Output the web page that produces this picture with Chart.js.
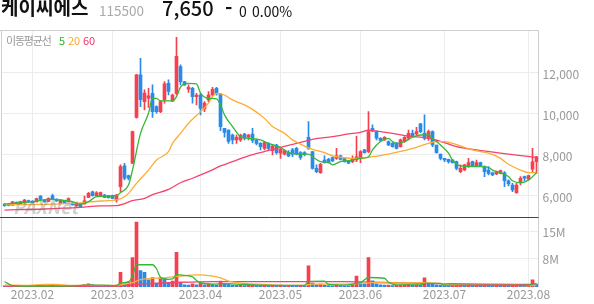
<!DOCTYPE html>
<html lang="ko">
<head>
<meta charset="utf-8">
<script src="https://cdn.jsdelivr.net/npm/chart.js@4"></script>
<style>
html, body { margin: 0; padding: 0; background: #fff; }
#wrap { position: relative; width: 594px; height: 304px; overflow: hidden; font-family: 'Noto Sans CJK KR', 'Noto Sans', sans-serif; }
canvas { position: absolute; left: 0; top: 0; }
.t { position: absolute; white-space: nowrap; line-height: 1; }
</style>
</head>
<body>
<div id="wrap">
  <canvas id="chart" width="594" height="304"></canvas>
  <span class="t" style="left:1px;top:-3px;font-size:19px;font-weight:700;color:#111">케이씨에스</span>
  <span class="t" style="left:99px;top:4px;font-size:13.5px;color:#aaa">115500</span>
  <span class="t" style="left:162px;top:-2px;font-size:20px;font-weight:500;color:#111">7,650</span>
  <span class="t" style="left:225px;top:-2px;font-size:20px;font-weight:700;color:#111">-</span>
  <span class="t" style="left:239px;top:4px;font-size:14px;color:#111">0</span>
  <span class="t" style="left:252px;top:4px;font-size:14px;color:#111">0.00%</span>
  <span class="t" style="left:6px;top:35px;font-size:11px;letter-spacing:-1.2px;color:#999">이동평균선</span>
  <span class="t" style="left:59px;top:35px;font-size:11px;color:#2fb52f">5</span>
  <span class="t" style="left:68px;top:35px;font-size:11px;color:#fca62c">20</span>
  <span class="t" style="left:83px;top:35px;font-size:11px;color:#f5306a">60</span>
  <span class="t" style="left:13px;top:197px;font-size:18px;font-weight:700;font-style:italic;color:rgba(120,120,120,0.35)">PAXNet</span>
</div>
<script>
// 거래일
const monthKeys = ['2023.01', '2023.02', '2023.03', '2023.04', '2023.05', '2023.06', '2023.07', '2023.08'];
const monthDays = [
    [19, 20, 25, 26, 27, 30, 31],
    [1, 2, 3, 6, 7, 8, 9, 10, 13, 14, 15, 16, 17, 20, 21, 22, 23, 24, 27, 28],
    [2, 3, 6, 7, 8, 9, 10, 13, 14, 15, 16, 17, 20, 21, 22, 23, 24, 27, 28, 29, 30, 31],
    [3, 4, 5, 6, 7, 10, 11, 12, 13, 14, 17, 18, 19, 20, 21, 24, 25, 26, 27, 28],
    [2, 3, 4, 8, 9, 10, 11, 12, 15, 16, 17, 18, 19, 22, 23, 24, 25, 26, 30, 31],
    [1, 2, 5, 7, 8, 9, 12, 13, 14, 15, 16, 19, 20, 21, 22, 23, 26, 27, 28, 29, 30],
    [3, 4, 5, 6, 7, 10, 11, 12, 13, 14, 17, 18, 19, 20, 21, 24, 25, 26, 27, 28, 31],
    [1, 2, 3]
];

// 시가 / 고가 / 저가 / 종가
const opens = [5590, 5580, 5540, 5680, 5610, 5650, 5760, 5720, 5700, 5980, 5780, 5720, 5990, 5830, 5650, 5720, 5700, 5640, 5500, 5600,
    5600, 5920, 6190, 6000, 6000, 6030, 6000, 6000, 5780, 6440, 7450, 6980, 7580, 9820, 11890, 10590, 10750, 10990, 10340, 10100,
    10670, 11480, 10620, 10990, 12300, 11560, 11190, 11240, 10830, 10910, 10230, 10670, 10910, 11240, 10960, 9290, 9200, 8960, 8720, 8720,
    9010, 8850, 9010, 8720, 8550, 8310, 8550, 8200, 8470, 8070, 8030, 8100, 8230, 8310, 8100, 8100, 8850, 8150, 7330, 7120,
    7740, 7770, 7860, 7820, 7940, 7820, 7710, 7660, 7740, 7820, 8230, 8150, 9290, 9120, 8800, 8720, 8640, 8550, 8560, 8390,
    8640, 8800, 9040, 9010, 9500, 9040, 8800, 9120, 8470, 8030, 7820, 7770, 7740, 7660, 7170, 7250, 7420, 7660, 7450, 7610,
    7420, 7250, 7120, 7060, 7090, 7120, 6730, 6520, 6150, 6680, 6930, 6800, 7290, 7660];
const highs = [5620, 5600, 5720, 5700, 5720, 5820, 5780, 5760, 5880, 6000, 5800, 5890, 6080, 5850, 5800, 5740, 5900, 5660, 5620, 5620,
    5980, 6160, 6230, 6200, 6180, 6060, 6020, 6030, 6060, 7500, 7580, 7010, 9150, 11920, 12700, 11160, 11240, 11400, 10380, 10640,
    11560, 11650, 10960, 13720, 12380, 11580, 11400, 11290, 10990, 10990, 10590, 11080, 11290, 11290, 10990, 9290, 9210, 9010, 8960, 9010,
    9040, 8990, 9290, 8750, 8590, 8640, 8590, 8470, 8510, 8310, 8230, 8200, 8310, 8360, 8150, 8150, 9610, 8150, 7500, 7580,
    7940, 7820, 7900, 8310, 7980, 7850, 7740, 7940, 8910, 8200, 8260, 10100, 9450, 9170, 8830, 8880, 8680, 8590, 8600, 8760,
    8880, 9200, 9200, 9330, 9530, 9940, 9200, 9160, 8470, 8030, 7820, 7790, 7770, 7690, 7500, 7530, 7820, 7690, 7740, 7640,
    7450, 7420, 7150, 7200, 7250, 7170, 6770, 6600, 6600, 6930, 6960, 7010, 8310, 7920];
const lows = [5480, 5500, 5530, 5600, 5600, 5640, 5670, 5640, 5690, 5800, 5680, 5710, 5800, 5720, 5640, 5630, 5690, 5540, 5480, 5410,
    5580, 5900, 5980, 5980, 5980, 5900, 5880, 5860, 5680, 6200, 6770, 6770, 7560, 9780, 10340, 10180, 10310, 9820, 10020, 10050,
    10510, 10910, 10590, 10910, 11400, 11380, 11030, 10510, 10430, 9940, 10100, 10590, 10870, 10900, 9170, 8850, 8550, 8520, 8550, 8640,
    8720, 8720, 8590, 8470, 8230, 8230, 8230, 7990, 8030, 7820, 7990, 7900, 7900, 7990, 7770, 7940, 8260, 7290, 7120, 7090,
    7580, 7580, 7660, 7770, 7740, 7630, 7560, 7610, 7660, 7610, 8070, 8100, 9120, 8720, 8650, 8690, 8440, 8360, 8280, 8360,
    8600, 8720, 8880, 8960, 9070, 8720, 8690, 8390, 8070, 7740, 7660, 7580, 7580, 7250, 7120, 7220, 7380, 7420, 7420, 7420,
    6930, 7010, 6980, 7030, 7060, 6440, 6470, 6200, 6110, 6520, 6730, 6770, 7120, 7090];
const closes = [5510, 5520, 5700, 5620, 5700, 5780, 5690, 5660, 5860, 5820, 5700, 5870, 5820, 5740, 5780, 5650, 5860, 5560, 5600, 5430,
    5750, 6110, 6000, 6140, 6150, 5920, 5900, 5870, 6030, 7420, 6850, 6850, 9120, 11890, 10680, 11000, 10870, 10100, 10100, 10590,
    11450, 11080, 10910, 12790, 11560, 11400, 11290, 10830, 10910, 10260, 10510, 10910, 11190, 10960, 9370, 9090, 8640, 8720, 8850, 8940,
    8800, 8960, 8690, 8550, 8390, 8590, 8310, 8420, 8100, 8260, 8200, 7940, 8030, 8030, 7870, 8000, 8310, 7330, 7170, 7530,
    7610, 7610, 7690, 7940, 7770, 7660, 7580, 7820, 7900, 8150, 8100, 9120, 9160, 8800, 8690, 8850, 8470, 8390, 8310, 8720,
    8850, 9040, 8910, 9120, 9120, 8800, 9120, 8470, 8100, 7820, 7740, 7660, 7610, 7330, 7330, 7500, 7610, 7450, 7610, 7450,
    7170, 7090, 7010, 7170, 7220, 6730, 6570, 6280, 6520, 6850, 6850, 6980, 7650, 7900];

// 거래량 (천주)
const volumes = [350, 300, 400, 250, 300, 400, 250, 300, 450, 500, 300, 350, 600, 300, 250, 200, 350, 200, 200, 300,
    650, 900, 650, 450, 400, 300, 250, 300, 500, 4000, 900, 1400, 8100, 17800, 4500, 4000, 2000, 2600, 1100, 2500,
    2400, 1100, 1600, 9500, 1300, 600, 550, 900, 600, 1000, 600, 900, 700, 500, 1600, 900, 800, 500, 450, 600,
    400, 450, 700, 500, 450, 500, 400, 500, 450, 500, 350, 400, 350, 300, 400, 300, 5800, 1100, 600, 800,
    500, 400, 350, 750, 400, 350, 300, 500, 3000, 1100, 700, 8100, 1700, 900, 600, 500, 500, 400, 450, 500,
    600, 700, 500, 600, 500, 2500, 800, 700, 600, 500, 400, 300, 300, 500, 600, 500, 600, 400, 450, 300,
    500, 400, 300, 350, 300, 600, 400, 500, 600, 500, 300, 400, 2000, 800];

// 이동평균선 (거래일 번호, 값)
const ma5Points = [[0, 5590], [4, 5660], [7, 5710], [11, 5820], [14, 5790], [17, 5710], [19, 5590], [21, 5710], [23, 5950], [26, 5980],
    [28, 6000], [29, 6150], [31, 6520], [32, 7250], [34, 9040], [36, 10020], [37, 10750], [38, 10750], [39, 10620], [42, 10620],
    [43, 10830], [44, 11290], [46, 11480], [48, 11450], [49, 11000], [51, 10750], [53, 10720], [54, 10430], [55, 9940], [57, 9370],
    [59, 8880], [61, 8800], [64, 8720], [66, 8550], [69, 8360], [71, 8100], [74, 8030], [76, 8030], [77, 7900], [79, 7660],
    [81, 7630], [82, 7500], [84, 7660], [86, 7710], [89, 7820], [91, 7900], [92, 8230], [94, 8640], [96, 8790], [97, 8640],
    [98, 8540], [100, 8640], [102, 8850], [104, 8960], [106, 8960], [107, 8800], [109, 8470], [111, 8070], [112, 7740], [114, 7450],
    [117, 7420], [119, 7420], [121, 7380], [122, 7250], [124, 7120], [126, 6930], [127, 6730], [129, 6630], [131, 6760], [133, 7120]];
const ma20Points = [[0, 5560], [10, 5580], [18, 5640], [24, 5740], [28, 5790], [30, 5950], [31, 6110], [33, 6600], [36, 7250], [38, 7740],
    [41, 8150], [42, 8550], [44, 9040], [46, 9530], [49, 10100], [51, 10510], [52, 10830], [53, 10990], [55, 10910], [57, 10670],
    [60, 10430], [62, 10210], [65, 9770], [67, 9370], [70, 9040], [72, 8720], [75, 8420], [77, 8260], [80, 8100], [82, 7940],
    [85, 7850], [87, 7820], [89, 7820], [92, 7900], [96, 8030], [99, 8160], [103, 8360], [106, 8550], [108, 8640], [110, 8640],
    [112, 8550], [115, 8360], [117, 8230], [121, 8070], [124, 7820], [126, 7530], [129, 7250], [131, 7120], [133, 7120]];
const ma60Points = [[0, 5300], [10, 5350], [19, 5430], [24, 5500], [28, 5510], [30, 5610], [32, 5760], [35, 5870], [37, 6050], [41, 6310],
    [44, 6630], [47, 6850], [51, 7170], [54, 7450], [57, 7660], [61, 7940], [65, 8150], [69, 8360], [73, 8550], [77, 8750],
    [82, 8880], [86, 9010], [89, 9090], [91, 9190], [94, 9120], [97, 9040], [101, 8910], [106, 8800], [110, 8590], [113, 8390],
    [118, 8230], [123, 8100], [128, 7980], [133, 7870]];

// 거래량 이동평균 (천주)
const vol5Points = [[0, 1500], [2, 400], [8, 250], [16, 300], [21, 500], [24, 500], [28, 400], [29, 1100], [31, 1400], [32, 3000],
    [33, 6100], [37, 6100], [38, 5000], [39, 2700], [41, 2100], [42, 2200], [43, 3400], [45, 3200], [47, 2800], [48, 1800],
    [49, 1200], [52, 800], [55, 900], [58, 800], [62, 550], [70, 450], [75, 450], [76, 1500], [80, 1600], [81, 700],
    [85, 500], [88, 1000], [89, 1200], [91, 2600], [95, 2400], [96, 1300], [98, 600], [104, 600], [105, 1000], [109, 1000],
    [110, 500], [120, 450], [128, 450], [131, 500], [132, 800], [133, 900]];
const vol20Points = [[0, 500], [6, 450], [10, 700], [13, 700], [16, 450], [25, 450], [28, 450], [30, 800], [32, 1200], [34, 2000],
    [36, 2300], [40, 2500], [44, 3000], [48, 3300], [52, 3000], [54, 2500], [56, 1600], [60, 1000], [65, 700], [70, 450],
    [75, 450], [77, 800], [85, 800], [89, 900], [92, 1200], [100, 1100], [105, 1200], [108, 1000], [112, 600], [118, 450],
    [125, 450], [130, 400], [133, 500]];
const vol60Points = [[0, 200], [20, 250], [28, 300], [32, 600], [36, 900], [44, 1300], [52, 1500], [70, 1500], [85, 1500], [92, 1300],
    [100, 1100], [110, 900], [120, 750], [133, 700]];

const priceTicks = [6000, 8000, 10000, 12000];
const volumeTicks = [7700, 15200];

const UP = '#f4414f';
const DOWN = '#2a8ae8';
const GREEN = '#35b835';
const ORANGE = '#fdac34';
const PINK = '#f4436c';

const dates = [];
const monthStarts = [];
monthKeys.forEach((m, k) => {
    monthDays[k].forEach((d, j) => {
        if (j === 0 && k > 0) monthStarts.push(dates.length);
        dates.push(m + '.' + String(d).padStart(2, '0'));
    });
});

function sparse(pairs) {
    const arr = new Array(dates.length).fill(null);
    pairs.forEach(([i, v]) => { arr[i] = v; });
    return arr;
}

const candleColors = closes.map((c, i) => (c >= opens[i] ? UP : DOWN));
const volumeColors = volumes.map((v, i) => (i > 0 && v >= volumes[i - 1] ? UP : DOWN));

function maLine(points, color, axis) {
    return {
        type: 'line',
        data: sparse(points),
        yAxisID: axis,
        borderColor: color,
        borderWidth: 1.3,
        pointRadius: 0,
        spanGaps: true,
        cubicInterpolationMode: 'monotone',
        order: 0
    };
}

// 테두리와 구분선
const framePlugin = {
    id: 'frame',
    afterDraw(chart) {
        const { ctx, chartArea: a, scales } = chart;
        ctx.save();
        ctx.lineWidth = 1;
        ctx.strokeStyle = '#cfcfcf';
        ctx.beginPath();
        ctx.moveTo(0, a.top + 0.5);
        ctx.lineTo(a.right, a.top + 0.5);
        ctx.lineTo(a.right, a.bottom);
        ctx.moveTo(1.5, a.top);
        ctx.lineTo(1.5, a.bottom);
        ctx.stroke();
        ctx.strokeStyle = '#444';
        ctx.beginPath();
        const sep = Math.round(scales.yv.top) + 0.5;
        ctx.moveTo(0, sep);
        ctx.lineTo(a.right, sep);
        ctx.stroke();
        ctx.restore();
    }
};

Chart.defaults.font.family = "'Noto Sans CJK KR', 'Noto Sans', sans-serif";
Chart.defaults.font.size = 12;
Chart.defaults.color = '#999';

new Chart(document.getElementById('chart').getContext('2d'), {
    data: {
        labels: dates,
        datasets: [
            maLine(ma5Points, GREEN, 'y'),
            maLine(ma20Points, ORANGE, 'y'),
            maLine(ma60Points, PINK, 'y'),
            maLine(vol5Points, GREEN, 'yv'),
            maLine(vol20Points, ORANGE, 'yv'),
            maLine(vol60Points, PINK, 'yv'),
            {
                type: 'bar',
                data: opens.map((o, i) => [o, closes[i]]),
                yAxisID: 'y',
                backgroundColor: candleColors,
                barThickness: 3,
                minBarLength: 1,
                grouped: false,
                order: 1
            },
            {
                type: 'bar',
                data: lows.map((l, i) => [l, highs[i]]),
                yAxisID: 'y',
                backgroundColor: candleColors,
                barThickness: 1,
                grouped: false,
                order: 2
            },
            {
                type: 'bar',
                data: volumes,
                yAxisID: 'yv',
                backgroundColor: volumeColors,
                barThickness: 3,
                grouped: false,
                order: 1
            }
        ]
    },
    options: {
        responsive: false,
        animation: false,
        layout: { padding: { top: 30, left: 2.5, right: 0, bottom: 0 } },
        plugins: {
            legend: { display: false },
            tooltip: { enabled: false }
        },
        scales: {
            x: {
                offset: true,
                border: { display: false },
                grid: { offset: false, color: '#ececec', drawTicks: false },
                afterBuildTicks: s => { s.ticks = s.ticks.filter(t => monthStarts.includes(t.value)); },
                afterFit: s => { s.height = 17; },
                ticks: {
                    autoSkip: false,
                    maxRotation: 0,
                    padding: 0,
                    callback: v => dates[v].slice(0, 7)
                }
            },
            y: {
                position: 'right',
                stack: 'panel',
                stackWeight: 187,
                min: 4960,
                max: 14080,
                border: { display: false },
                grid: { color: '#ececec', drawTicks: false },
                afterBuildTicks: s => { s.ticks = priceTicks.map(v => ({ value: v })); },
                afterFit: s => { s.width = 55.5; },
                ticks: { padding: 4, labelOffset: 2, callback: v => v.toLocaleString('en-US') }
            },
            yv: {
                position: 'right',
                stack: 'panel',
                stackWeight: 70,
                min: 0,
                max: 19200,
                border: { display: false },
                grid: { color: '#ececec', drawTicks: false },
                afterBuildTicks: s => { s.ticks = volumeTicks.map(v => ({ value: v })); },
                afterFit: s => { s.width = 55.5; },
                ticks: { padding: 4, labelOffset: 1, callback: v => Math.round(v / 1000) + 'M' }
            }
        }
    },
    plugins: [framePlugin]
});
</script>
</body>
</html>
